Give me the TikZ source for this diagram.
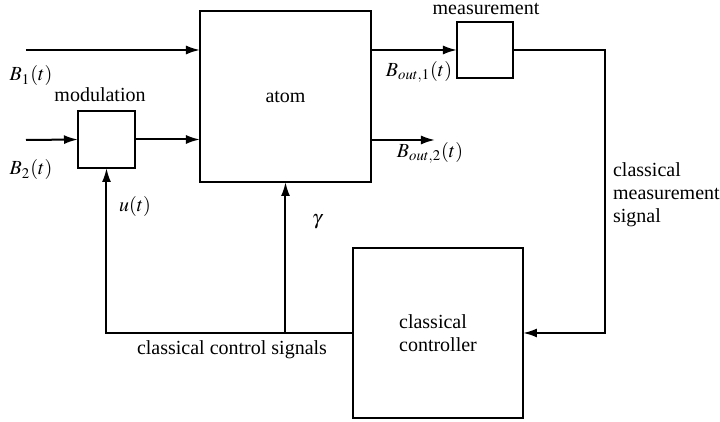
\documentclass[tikz,border=0pt]{standalone}
\usepackage{mathptmx}
\usepackage{fontspec}
\setmainfont{Liberation Serif}
\usepackage{tikz}
\usetikzlibrary{arrows.meta}

\tikzset{
	blk/.style={draw, line width=1pt, inner sep=0pt, outer sep=0pt},
	sig/.style={line width=1pt}
}

\begin{document}
\begin{tikzpicture}[x=0.5pt, y=-0.5pt, >={Latex[length=7pt,width=4.5pt]}, font=\fontsize{10}{11.5}\selectfont]
			\useasboundingbox (0,0) rectangle (720,422);
			\node[blk, minimum width=85.5pt, minimum height=85.5pt] (atom) at (285.5,96.5) {atom};
			\node[blk, minimum width=28.5pt, minimum height=28.5pt] (modul) at (106.5,139.5) {};
			\node[blk, minimum width=28pt, minimum height=28pt] (meas) at (485,50) {};
			\node[blk, minimum width=85pt, minimum height=85pt, align=left] (ctrl) at (438,333) {classical\\controller};
			\coordinate (b1in) at (26,50);
			\coordinate (b2in) at (26,140);
			\coordinate (bout2) at (435,140);
			\coordinate (corner) at (605,50);
			\draw[sig,->] (b1in) -- (atom.west |- b1in);
			\draw[sig,->] (b2in) -- (modul.west);
			\draw[sig,->] (modul.east) -- (atom.west |- modul.east);
			\draw[sig,->] (atom.east |- meas.west) -- (meas.west);
			\draw[sig,->] (atom.east |- bout2) -- (bout2);
			\draw[sig,->] (meas.east) -- (corner) |- (ctrl.east);
			\draw[sig,->] (ctrl.west) -| (modul.south);
			\draw[sig,->] (atom.south |- ctrl.west) -- (atom.south);
			\node (lb1) at (31,76) {$B_1(t)$};
			\node (lb2) at (31,170) {$B_2(t)$};
			\node (lmod) at (100,95) {modulation};
			\node (lmeas) at (486,9) {measurement};
			\node (lbo1) at (419,72) {$B_{out,1}(t)$};
			\node (lbo2) at (430,153) {$B_{out,2}(t)$};
			\node (lu) at (135,207) {$u(t)$};
			\node (lg) at (317,222) {$\gamma$};
			\node (lccs) at (232,350) {classical control signals};
			\node[anchor=west, align=left] (lcms) at (606,195) {classical\\measurement\\signal};
		\end{tikzpicture}
\end{document}
